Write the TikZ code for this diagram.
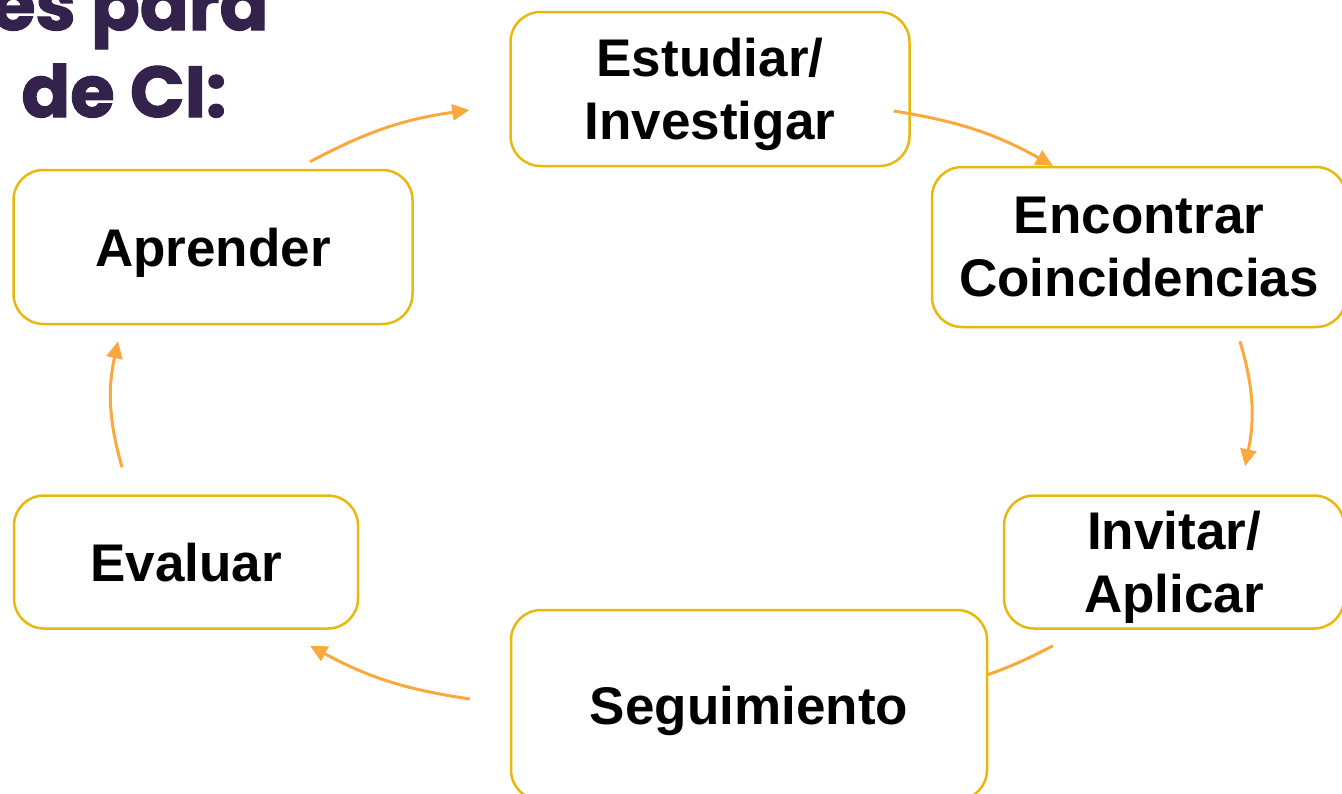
\documentclass[tikz,border=0pt]{standalone}
\usepackage{fontspec}
\setmainfont{Liberation Sans}
\newfontfamily\titlefont{Poppins}[BoldFeatures={FakeBold=1.6}]
\usetikzlibrary{arrows.meta,backgrounds}
\definecolor{boxgold}{HTML}{E8B80E}
\definecolor{flowor}{HTML}{FBA83E}
\definecolor{titleplum}{HTML}{33224B}
\begin{document}
\begin{tikzpicture}[x=1pt,y=-1pt,
	stagebox/.style={draw=boxgold,line width=2.5pt,rounded corners=30pt,fill=white,inner sep=0pt,align=center,text depth=0pt,font=\fontsize{53}{63}\selectfont\bfseries},
	flow/.style={draw=flowor,line width=3pt,-{Triangle[length=17pt,width=16pt]}},
	heading/.style={anchor=base east,text=titleplum,font=\titlefont\bfseries\fontsize{72}{80}\selectfont}]
	\useasboundingbox (0,0) rectangle (1342,793);
	\node[heading] (headtop) at (272,30) {es para};
	\node[heading] (headbot) at (230,117) {de CI:};
	\node[stagebox,minimum width=399pt,minimum height=154pt] (estudiar) at (710,89) {Estudiar/\\Investigar};
	\node[stagebox,minimum width=414pt,minimum height=160pt] (encontrar) at (1139,247) {Encontrar\\Coincidencias};
	\node[stagebox,minimum width=340pt,minimum height=133pt] (invitar) at (1174,562) {Invitar/\\Aplicar};
	\node[stagebox,minimum width=476pt,minimum height=190pt] (seguim) at (749,705) {Seguimiento};
	\node[stagebox,minimum width=344pt,minimum height=133pt] (evaluar) at (186,562) {Evaluar};
	\node[stagebox,minimum width=399pt,minimum height=154pt] (aprender) at (213,247) {Aprender};
	\draw[flow,bend left=10] ([shift={(97,-7)}]aprender.north) to ([shift={(-40,21)}]estudiar.west);
	\draw[flow,bend left=10] ([shift={(-17,22)}]estudiar.east) to ([shift={(-86,0)}]encontrar.north);
	\draw[flow,bend left=14] ([shift={(101,13)}]encontrar.south) to ([shift={(71,-28)}]invitar.north);
	\begin{scope}[on background layer]
		\draw[flow,bend left=6] ([shift={(-121,16)}]invitar.south) to ([shift={(-30,-22)}]seguim.east);
	\end{scope}
	\draw[flow,bend left=10] ([shift={(-40,-6)}]seguim.west) to ([shift={(124,16)}]evaluar.south);
	\draw[flow,bend left=14] ([shift={(-64,-27)}]evaluar.north) to ([shift={(-95,16)}]aprender.south);
\end{tikzpicture}
\end{document}
